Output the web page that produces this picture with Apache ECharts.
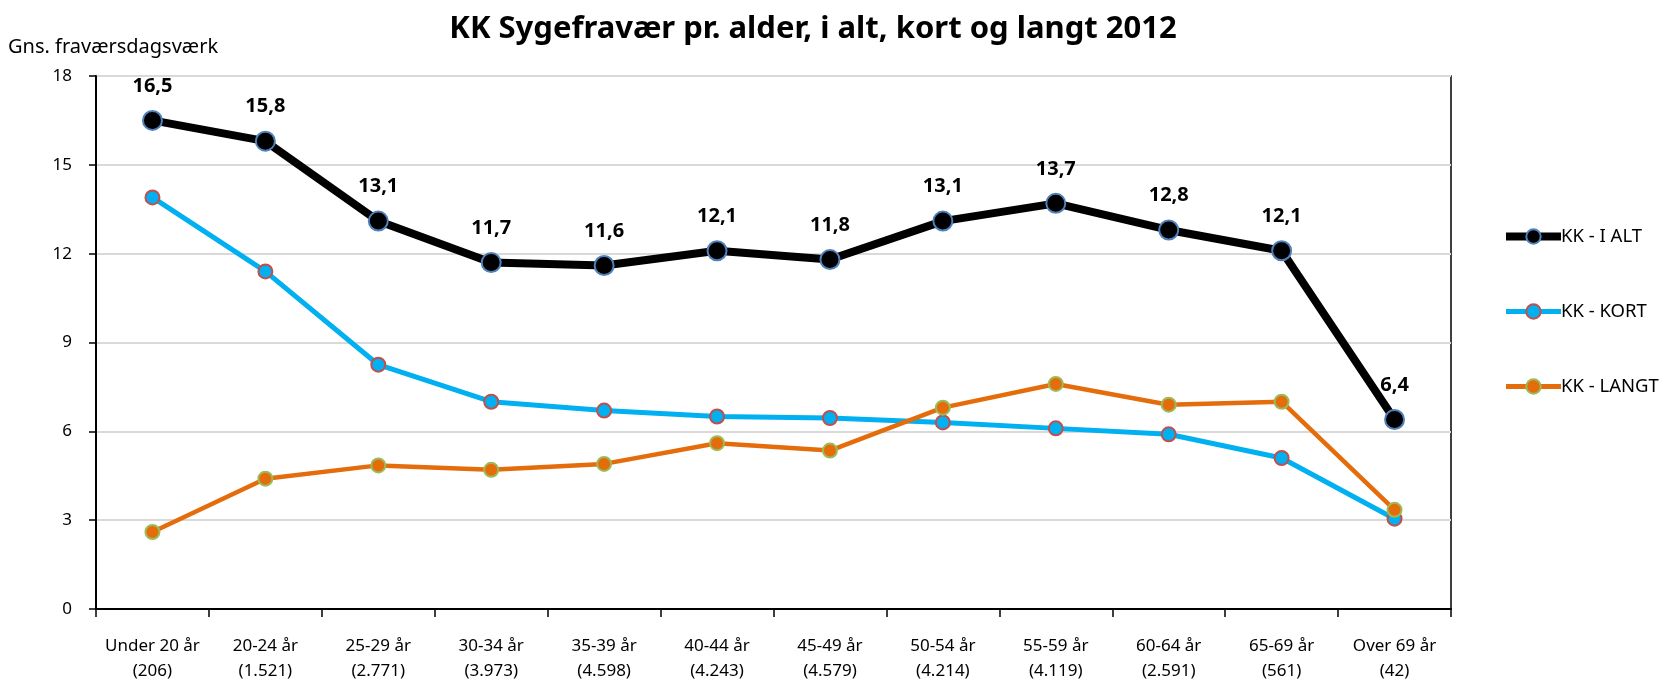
<!DOCTYPE html>
<html>
<head>
<meta charset="utf-8">
<script src="https://cdn.jsdelivr.net/npm/echarts@6/dist/echarts.min.js"></script>
<style>
    html, body { margin: 0; padding: 0; background: #fff; }
    #main { width: 1675px; height: 679px; }
</style>
</head>
<body>
<div id="main"></div>
<script>
// aldersgrupper (antal medarbejdere i parentes)
var categories = ['Under 20 år\n(206)', '20-24 år\n(1.521)', '25-29 år\n(2.771)', '30-34 år\n(3.973)',
    '35-39 år\n(4.598)', '40-44 år\n(4.243)', '45-49 år\n(4.579)', '50-54 år\n(4.214)',
    '55-59 år\n(4.119)', '60-64 år\n(2.591)', '65-69 år\n(561)', 'Over 69 år\n(42)'];

var iAlt = [16.5, 15.8, 13.1, 11.7, 11.6, 12.1, 11.8, 13.1, 13.7, 12.8, 12.1, 6.4];
var kort = [13.9, 11.4, 8.25, 7.0, 6.7, 6.5, 6.45, 6.3, 6.1, 5.9, 5.1, 3.05];
var langt = [2.6, 4.4, 4.85, 4.7, 4.9, 5.6, 5.35, 6.8, 7.6, 6.9, 7.0, 3.35];

var yTicks = [0, 3, 6, 9, 12, 15, 18];

var fontName = 'Noto Sans';

window.onload = function () {
    drawChart();
};

function drawChart() {
    var myChart = echarts.init(document.getElementById('main'));

    var option = {
        backgroundColor: '#fff',
        animation: false,
        textStyle: { fontFamily: fontName, color: '#000' },
        title: {
            text: 'KK Sygefravær pr. alder, i alt, kort og langt 2012',
            left: 808,
            textAlign: 'center',
            top: 9,
            textStyle: { fontFamily: fontName, fontSize: 31, fontWeight: 'bold', color: '#000' }
        },
        legend: {
            orient: 'vertical',
            left: 1497,
            top: 222,
            itemWidth: 55,
            itemHeight: 18,
            itemGap: 56,
            textStyle: { fontFamily: fontName, fontSize: 18.5, color: '#000', padding: [0, 0, 0, -5] },
            data: [
                { name: 'KK - I ALT', lineStyle: { width: 8 } },
                { name: 'KK - KORT', lineStyle: { width: 5 } },
                { name: 'KK - LANGT', lineStyle: { width: 5 } }
            ]
        },
        grid: {
            left: 96,
            right: 224,
            top: 76,
            bottom: 70,
            show: true,
            borderColor: '#000',
            borderWidth: 1.5,
            containLabel: false,
            outerBoundsMode: 'none'
        },
        xAxis: {
            type: 'category',
            data: categories,
            boundaryGap: true,
            axisLine: { lineStyle: { color: '#000', width: 2 } },
            axisTick: { show: true, length: 8, lineStyle: { color: '#000', width: 1.5 } },
            axisLabel: {
                interval: 0,
                color: '#000',
                fontFamily: fontName,
                fontSize: 17,
                lineHeight: 25,
                margin: 25
            }
        },
        yAxis: {
            type: 'value',
            min: yTicks[0],
            max: yTicks[yTicks.length - 1],
            interval: 3,
            name: 'Gns. fraværsdagsværk',
            nameLocation: 'end',
            nameGap: 19,
            nameTextStyle: { fontFamily: fontName, fontSize: 20, color: '#000', align: 'left', padding: [0, 0, 0, -88] },
            axisLine: { show: true, lineStyle: { color: '#000', width: 2 } },
            axisTick: { show: true, length: 7, lineStyle: { color: '#000', width: 1.5 } },
            axisLabel: { color: '#000', fontFamily: fontName, fontSize: 17, margin: 24 },
            splitLine: { show: true, lineStyle: { color: '#d9d9d9', width: 2 } }
        },
        series: [{
            name: 'KK - I ALT',
            type: 'line',
            data: iAlt,
            z: 5,
            symbol: 'circle',
            symbolSize: 19,
            lineStyle: { color: '#000', width: 8 },
            itemStyle: { color: '#000', borderColor: '#4f81bd', borderWidth: 2 },
            label: {
                show: true,
                position: 'top',
                distance: 14,
                color: '#000',
                fontFamily: fontName,
                fontSize: 20,
                fontWeight: 'bold',
                formatter: function (p) {
                    return p.value.toFixed(1).replace('.', ',');
                }
            }
        }, {
            name: 'KK - KORT',
            type: 'line',
            data: kort,
            z: 3,
            symbol: 'circle',
            symbolSize: 14,
            lineStyle: { color: '#00b0f0', width: 5 },
            itemStyle: { color: '#00b0f0', borderColor: '#c0504d', borderWidth: 2 }
        }, {
            name: 'KK - LANGT',
            type: 'line',
            data: langt,
            z: 4,
            symbol: 'circle',
            symbolSize: 14,
            lineStyle: { color: '#e46c0a', width: 4.5 },
            itemStyle: { color: '#e46c0a', borderColor: '#9bbb59', borderWidth: 2 }
        }]
    };

    myChart.setOption(option);
}
</script>
</body>
</html>
